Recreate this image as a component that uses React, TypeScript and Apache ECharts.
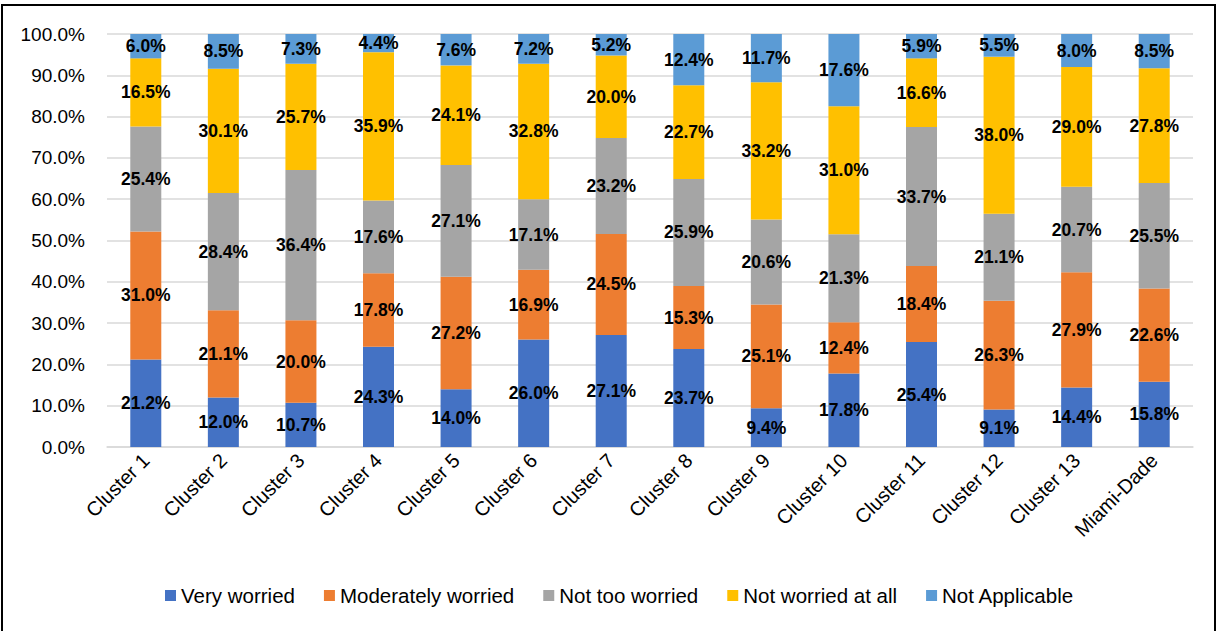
import React, { useEffect, useRef } from "react";
import * as echarts from "echarts";

const categories = ["Cluster 1","Cluster 2","Cluster 3","Cluster 4","Cluster 5","Cluster 6","Cluster 7","Cluster 8","Cluster 9","Cluster 10","Cluster 11","Cluster 12","Cluster 13","Miami-Dade"];
const veryWorried = [21.2,12.0,10.7,24.3,14.0,26.0,27.1,23.7,9.4,17.8,25.4,9.1,14.4,15.8];
const moderatelyWorried = [31.0,21.1,20.0,17.8,27.2,16.9,24.5,15.3,25.1,12.4,18.4,26.3,27.9,22.6];
const notTooWorried = [25.4,28.4,36.4,17.6,27.1,17.1,23.2,25.9,20.6,21.3,33.7,21.1,20.7,25.5];
const notWorriedAtAll = [16.5,30.1,25.7,35.9,24.1,32.8,20.0,22.7,33.2,31.0,16.6,38.0,29.0,27.8];
const notApplicable = [6.0,8.5,7.3,4.4,7.6,7.2,5.2,12.4,11.7,17.6,5.9,5.5,8.0,8.5];

const seriesDefs = [
  { name: "Very worried", data: veryWorried, color: "#4472C4" },
  { name: "Moderately worried", data: moderatelyWorried, color: "#ED7D31" },
  { name: "Not too worried", data: notTooWorried, color: "#A5A5A5" },
  { name: "Not worried at all", data: notWorriedAtAll, color: "#FFC000" },
  { name: "Not Applicable", data: notApplicable, color: "#5B9BD5" },
];

const FONT = "'Liberation Sans', Arial, sans-serif";

export default function App() {
  const ref = useRef<HTMLDivElement>(null);
  useEffect(() => {
    if (!ref.current) return;
    const chart = echarts.init(ref.current, null, { renderer: "svg" });
    chart.setOption({
      animation: false,
      backgroundColor: "#ffffff",
      textStyle: { fontFamily: FONT },
      grid: { left: 107, right: 24, top: 34, bottom: 184 },
      legend: {
        left: 160,
        top: 580,
        itemWidth: 11,
        itemHeight: 11,
        itemGap: 29,
        icon: "rect",
        textStyle: { fontFamily: FONT, fontSize: 20.5, color: "#000" },
        data: seriesDefs.map((s) => s.name),
      },
      xAxis: {
        type: "category",
        data: categories,
        axisLine: { lineStyle: { color: "#D9D9D9", width: 1.5 } },
        axisTick: { show: false },
        axisLabel: { rotate: 45, fontSize: 20, color: "#000", fontFamily: FONT, margin: 10, interval: 0 },
      },
      yAxis: {
        type: "value",
        min: 0,
        max: 100,
        interval: 10,
        axisLine: { show: false },
        axisTick: { show: false },
        splitLine: { lineStyle: { color: "#D9D9D9", width: 1.5 } },
        axisLabel: { fontSize: 19, color: "#000", fontFamily: FONT, margin: 22, formatter: (v: number) => v.toFixed(1) + "%" },
      },
      series: seriesDefs.map((s) => ({
        name: s.name,
        type: "bar",
        stack: "total",
        barWidth: 31,
        data: s.data,
        itemStyle: { color: s.color },
        label: {
          show: true,
          position: "inside",
          color: "#000",
          fontWeight: "bold",
          fontSize: 17.5,
          fontFamily: FONT,
          formatter: (p: any) => Number(p.value).toFixed(1) + "%",
        },
      })),
      graphic: [
        {
          type: "rect",
          shape: { x: 2, y: 5, width: 1213, height: 640 },
          style: { fill: "none", stroke: "#000", lineWidth: 2 },
          silent: true,
        },
      ],
    });
    return () => chart.dispose();
  }, []);
  return <div ref={ref} style={{ position: "fixed", left: 0, top: 0, width: 1217, height: 631 }} />;
}
